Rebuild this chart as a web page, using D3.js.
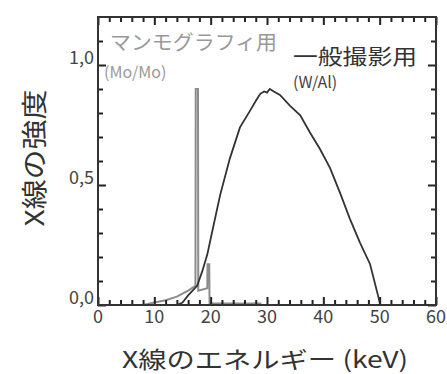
<!DOCTYPE html>
<html>
<head>
<meta charset="utf-8">
<script src="https://d3js.org/d3.v7.min.js"></script>
<style>
  body { margin: 0; background: #fff; }
  svg { display: block; font-family: "Noto Sans CJK JP", "Noto Sans", sans-serif; }
  .tick line { stroke: #222; stroke-width: 2; }
  .domain { display: none; }
</style>
</head>
<body>
<svg id="chart" width="447" height="374"></svg>
<script>
// energy (keV) / relative intensity
const wEnergy = [14, 15, 16, 17, 17.6, 18.5, 19.4, 20.4, 21.7, 23.4, 25.2, 27.0, 28.0, 28.8, 29.5, 30.0, 30.5, 31.2, 32.3, 34.1, 35.9, 37.6, 39.4, 41.2, 43.0, 44.7, 46.5, 48.3, 49.7, 50.1];
const wIntensity = [0.0, 0.01, 0.04, 0.065, 0.08, 0.14, 0.21, 0.32, 0.46, 0.61, 0.74, 0.81, 0.85, 0.88, 0.89, 0.885, 0.9, 0.89, 0.875, 0.83, 0.79, 0.72, 0.65, 0.57, 0.465, 0.36, 0.26, 0.17, 0.04, 0.0];

const moEnergy = [8, 10, 12, 14, 16, 17.3, 17.35, 17.75, 17.8, 19.4, 19.45, 19.75, 19.8, 29];
const moIntensity = [0.0, 0.01, 0.02, 0.035, 0.06, 0.08, 0.90, 0.90, 0.06, 0.07, 0.17, 0.17, 0.006, 0.006];

const xTicks = [0, 10, 20, 30, 40, 50, 60];
const xMinorTicks = [2, 4, 6, 8, 12, 14, 16, 18, 22, 24, 26, 28, 32, 34, 36, 38, 42, 44, 46, 48, 52, 54, 56, 58];
const yTicks = [0.0, 0.5, 1.0];
const yMinorTicks = [0.1, 0.2, 0.3, 0.4, 0.6, 0.7, 0.8, 0.9, 1.1];
const yTickLabels = ["0,0", "0,5", "1,0"];

const svg = d3.select('#chart');
const margin = { top: 17, right: 11, bottom: 69, left: 98 };
const W = 447 - margin.left - margin.right;
const H = 374 - margin.top - margin.bottom;

const x = d3.scaleLinear().domain([0, 60]).range([0, W]);
const y = d3.scaleLinear().domain([0, 1.2]).range([H, 0]);

const g = svg.append('g').attr('transform', `translate(${margin.left},${margin.top})`);

// curves
const line = d3.line().x(d => x(d[0])).y(d => y(d[1]));
g.append('path')
  .datum(d3.zip(moEnergy, moIntensity))
  .attr('d', line)
  .attr('fill', 'none').attr('stroke', '#8c8c8c').attr('stroke-width', 2);
g.append('path')
  .datum(d3.zip(wEnergy, wIntensity))
  .attr('d', line)
  .attr('fill', 'none').attr('stroke', '#333').attr('stroke-width', 1.8);

// inward ticks on all four sides (labels drawn separately)
const noLabel = () => '';
const addAxis = (axis, tr) => g.append('g').attr('transform', tr).call(axis);
addAxis(d3.axisBottom(x).tickValues(xTicks).tickSize(-8).tickFormat(noLabel), `translate(0,${H})`);
addAxis(d3.axisBottom(x).tickValues(xMinorTicks).tickSize(-5).tickFormat(noLabel), `translate(0,${H})`);
addAxis(d3.axisTop(x).tickValues(xTicks).tickSize(-8).tickFormat(noLabel), 'translate(0,0)');
addAxis(d3.axisTop(x).tickValues(xMinorTicks).tickSize(-5).tickFormat(noLabel), 'translate(0,0)');
addAxis(d3.axisLeft(y).tickValues(yTicks).tickSize(-8).tickFormat(noLabel), 'translate(0,0)');
addAxis(d3.axisLeft(y).tickValues(yMinorTicks).tickSize(-5).tickFormat(noLabel), 'translate(0,0)');
addAxis(d3.axisRight(y).tickValues(yTicks).tickSize(-8).tickFormat(noLabel), `translate(${W},0)`);
addAxis(d3.axisRight(y).tickValues(yMinorTicks).tickSize(-5).tickFormat(noLabel), `translate(${W},0)`);

// frame
g.append('rect').attr('width', W).attr('height', H)
  .attr('fill', 'none').attr('stroke', '#333').attr('stroke-width', 2);

// tick labels
g.selectAll('.xl').data(xTicks).join('text')
  .attr('x', d => x(d)).attr('y', H + 18)
  .attr('text-anchor', 'middle').attr('font-size', 18).attr('fill', '#444')
  .text(d => d);
g.selectAll('.yl').data(yTicks).join('text')
  .attr('x', -4).attr('y', d => y(d) - 1)
  .attr('text-anchor', 'end').attr('font-size', 18).attr('fill', '#444')
  .text((d, i) => yTickLabels[i]);

// axis titles
svg.append('text').attr('x', 265).attr('y', 368)
  .attr('text-anchor', 'middle').attr('font-size', 23).attr('fill', '#333')
  .attr('textLength', 286).attr('lengthAdjust', 'spacingAndGlyphs')
  .text('X線のエネルギー (keV)');
svg.append('text').attr('transform', 'translate(44,158) rotate(-90)')
  .attr('text-anchor', 'middle').attr('font-size', 26).attr('fill', '#333')
  .attr('textLength', 137).attr('lengthAdjust', 'spacingAndGlyphs')
  .text('X線の強度');

// annotations
svg.append('text').attr('x', 110).attr('y', 50).attr('font-size', 20).attr('fill', '#999')
  .attr('textLength', 167).attr('lengthAdjust', 'spacingAndGlyphs').text('マンモグラフィ用');
svg.append('text').attr('x', 104).attr('y', 78).attr('font-size', 16).attr('fill', '#999')
  .text('(Mo/Mo)');
svg.append('text').attr('x', 293).attr('y', 64).attr('font-size', 21).attr('fill', '#333')
  .attr('textLength', 124).attr('lengthAdjust', 'spacingAndGlyphs').text('一般撮影用');
svg.append('text').attr('x', 293).attr('y', 88).attr('font-size', 16).attr('fill', '#444')
  .text('(W/Al)');
</script>
</body>
</html>
